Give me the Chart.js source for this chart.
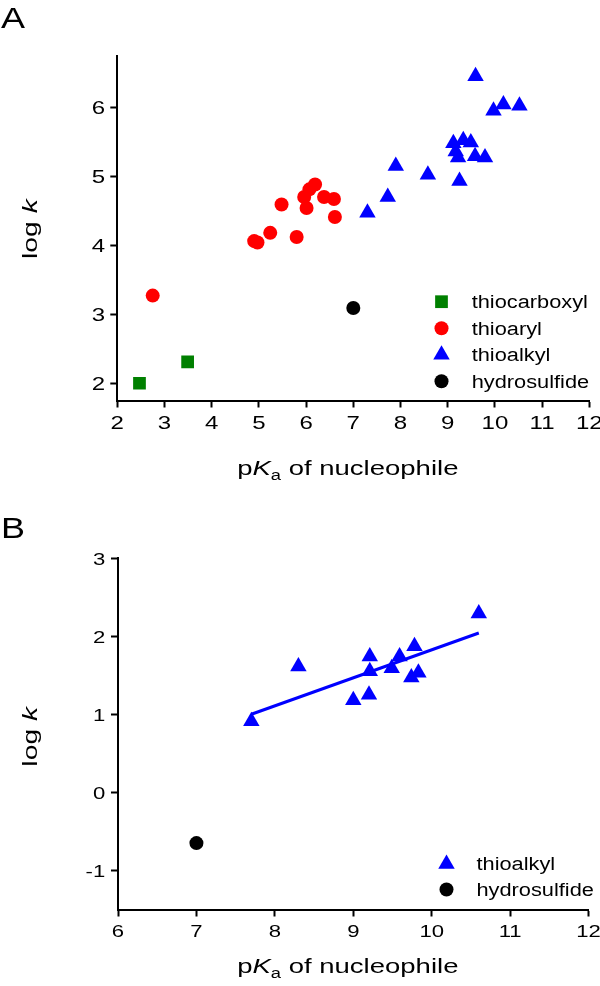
<!DOCTYPE html>
<html>
<head>
<meta charset="utf-8">
<script src="https://cdn.jsdelivr.net/npm/chart.js@4"></script>
<style>
    body { margin: 0; background: #fff; }
    .panel { position: absolute; left: 0; width: 600px; height: 493px; }
    #panelA { top: 0; }
    #panelB { top: 493px; }
</style>
</head>
<body>
<div class="panel" id="panelA"><canvas id="chartA" width="600" height="493"></canvas></div>
<div class="panel" id="panelB"><canvas id="chartB" width="600" height="493"></canvas></div>
<script>
// Panel A data (pKa, log k)
const carboxylX = [2.47, 3.49];
const carboxylY = [2.0, 2.31];
const arylX = [2.75, 4.9, 4.97, 5.24, 5.8, 5.48, 6.01, 5.96, 6.07, 6.19, 6.38, 6.59, 6.61];
const arylY = [3.27, 4.06, 4.04, 4.18, 4.12, 4.59, 4.54, 4.70, 4.81, 4.88, 4.70, 4.67, 4.41];
const alkylX = [7.3, 7.73, 7.9, 8.58, 9.25, 9.12, 9.33, 9.49, 9.17, 9.22, 9.58, 9.79, 9.59, 9.97, 10.18, 10.52];
const alkylY = [4.47, 4.70, 5.15, 5.02, 4.93, 5.48, 5.52, 5.49, 5.36, 5.27, 5.29, 5.27, 6.45, 5.95, 6.04, 6.02];
const sulfideX = [7.0];
const sulfideY = [3.09];

// Panel B data
const alkylBX = [7.7, 8.3, 9.21, 9.21, 9.2, 9.0, 9.49, 9.59, 9.78, 9.74, 9.83, 10.6];
const alkylBY = [0.91, 1.61, 1.74, 1.55, 1.25, 1.18, 1.59, 1.74, 1.87, 1.47, 1.53, 2.29];
const sulfideBX = [7.0];
const sulfideBY = [-0.65];
const fitX = [7.7, 10.6];
const fitY = [1.0, 2.04];

// tick labels
const xTicksA = [2, 3, 4, 5, 6, 7, 8, 9, 10, 11, 12];
const yTicksA = [2, 3, 4, 5, 6];
const xTicksB = [6, 7, 8, 9, 10, 11, 12];
const yTicksB = [-1, 0, 1, 2, 3];

const GREEN = '#008000', RED = '#ff0000', BLUE = '#0000ff', BLACK = '#000000';
const FAM = '"Liberation Sans", Arial, sans-serif';

function pts(xs, ys) {
    return xs.map((x, i) => ({ x: x, y: ys[i] }));
}

// text is wider than tall in the original, so stretch it horizontally
function stretchText(ctx, s, x, y, align, sx) {
    ctx.save();
    ctx.translate(x, y);
    ctx.scale(sx, 1);
    ctx.textAlign = align;
    ctx.textBaseline = 'alphabetic';
    ctx.fillText(s, 0, 0);
    ctx.restore();
}

function drawParts(ctx, parts, sx) {
    let w = 0;
    parts.forEach(p => { ctx.font = p.f; p.w = ctx.measureText(p.t).width; w += p.w; });
    ctx.scale(sx, 1);
    ctx.textAlign = 'left';
    ctx.textBaseline = 'alphabetic';
    let x = -w / 2;
    parts.forEach(p => { ctx.font = p.f; ctx.fillText(p.t, x, p.dy); x += p.w; });
}

const decor = {
    id: 'decor',
    afterDraw(chart, args, o) {
        const ctx = chart.ctx;
        const xs = chart.scales.x, ys = chart.scales.y;
        ctx.save();
        ctx.fillStyle = '#000';

        // tick labels
        ctx.font = o.tickSize + 'px ' + FAM;
        xs.ticks.forEach(t => stretchText(ctx, String(t.value), xs.getPixelForValue(t.value), o.xTickBase, 'center', 1.3));
        ys.ticks.forEach(t => stretchText(ctx, String(t.value), o.yTickRight, ys.getPixelForValue(t.value) + 6.6, 'right', 1.3));

        // panel letter
        ctx.font = '30px ' + FAM;
        stretchText(ctx, o.letter, 1, o.letterBase, 'left', 1.2);

        // x title: pKa of nucleophile
        ctx.save();
        ctx.translate(347.8, o.xTitleBase);
        drawParts(ctx, [
            { t: 'p', f: '21px ' + FAM, dy: 0 },
            { t: 'K', f: 'italic 21px ' + FAM, dy: 0 },
            { t: 'a', f: '14px ' + FAM, dy: 5 },
            { t: ' of nucleophile', f: '21px ' + FAM, dy: 0 }
        ], 1.31);
        ctx.restore();

        // y title: log k
        ctx.save();
        ctx.translate(37, o.yTitleMid);
        ctx.rotate(-Math.PI / 2);
        drawParts(ctx, [
            { t: 'log ', f: '21px ' + FAM, dy: 0 },
            { t: 'k', f: 'italic 21px ' + FAM, dy: 0 }
        ], 1.35);
        ctx.restore();

        // legend
        o.legend.forEach((it, i) => {
            const y = o.legendY + i * o.legendGap;
            ctx.fillStyle = it.color;
            Chart.helpers.drawPoint(ctx, { pointStyle: it.style, radius: it.r, borderWidth: 0, rotation: 0 }, o.legendX, y);
            ctx.fillStyle = '#000';
            ctx.font = '18px ' + FAM;
            stretchText(ctx, it.label, o.legendTextX, y + 6.3, 'left', 1.21);
        });
        ctx.restore();
    }
};

function axis(min, max, tickVals, fixed, horizontal) {
    return {
        type: 'linear',
        min: min,
        max: max,
        afterBuildTicks: s => { s.ticks = tickVals.map(v => ({ value: v })); },
        afterFit: s => {
            if (horizontal) s.height = fixed; else s.width = fixed;
            s.paddingLeft = 0; s.paddingRight = 0; s.paddingTop = 0; s.paddingBottom = 0;
        },
        ticks: { display: false },
        grid: { display: true, drawOnChartArea: false, drawTicks: true, tickLength: 7, tickWidth: 2, tickColor: '#000' },
        border: { display: true, color: '#000', width: 2 }
    };
}

const triA = { pointStyle: 'triangle', pointRadius: 9.5 };

new Chart(document.getElementById('chartA'), {
    type: 'scatter',
    data: {
        datasets: [
            { label: 'thiocarboxyl', data: pts(carboxylX, carboxylY), pointStyle: 'rect', pointRadius: 9, pointBackgroundColor: GREEN, pointBorderWidth: 0 },
            { label: 'thioaryl', data: pts(arylX, arylY), pointStyle: 'circle', pointRadius: 7, pointBackgroundColor: RED, pointBorderWidth: 0 },
            { label: 'thioalkyl', data: pts(alkylX, alkylY), pointStyle: 'triangle', pointRadius: 9.5, pointBackgroundColor: BLUE, pointBorderWidth: 0 },
            { label: 'hydrosulfide', data: pts(sulfideX, sulfideY), pointStyle: 'circle', pointRadius: 7, pointBackgroundColor: BLACK, pointBorderWidth: 0 }
        ]
    },
    options: {
        responsive: false,
        animation: false,
        layout: { padding: { top: 55.5, right: 10.7, bottom: 0, left: 0 } },
        scales: {
            x: axis(2, 12, xTicksA, 92.5, true),
            y: axis(1.75, 6.75, yTicksA, 117.3, false)
        },
        plugins: {
            legend: { display: false },
            tooltip: { enabled: false },
            decor: {
                tickSize: 18.5, xTickBase: 428.5, yTickRight: 105.2,
                letter: 'A', letterBase: 28.3,
                xTitleBase: 475, yTitleMid: 229,
                legendX: 441.5, legendY: 301.7, legendGap: 26.5, legendTextX: 471.7,
                legend: [
                    { label: 'thiocarboxyl', style: 'rect', r: 9, color: GREEN },
                    { label: 'thioaryl', style: 'circle', r: 7, color: RED },
                    { label: 'thioalkyl', style: 'triangle', r: 9.5, color: BLUE },
                    { label: 'hydrosulfide', style: 'circle', r: 7, color: BLACK }
                ]
            }
        }
    },
    plugins: [decor]
});

new Chart(document.getElementById('chartB'), {
    type: 'scatter',
    data: {
        datasets: [
            { type: 'line', label: 'fit', data: pts(fitX, fitY), showLine: true, borderColor: BLUE, borderWidth: 3, pointRadius: 0, fill: false },
            { label: 'thioalkyl', data: pts(alkylBX, alkylBY), pointStyle: 'triangle', pointRadius: 9.5, pointBackgroundColor: BLUE, pointBorderWidth: 0 },
            { label: 'hydrosulfide', data: pts(sulfideBX, sulfideBY), pointStyle: 'circle', pointRadius: 7, pointBackgroundColor: BLACK, pointBorderWidth: 0 }
        ]
    },
    options: {
        responsive: false,
        animation: false,
        layout: { padding: { top: 65, right: 11.4, bottom: 0, left: 0 } },
        scales: {
            x: axis(6, 12, xTicksB, 76.5, true),
            y: axis(-1.5, 3, yTicksB, 118, false)
        },
        plugins: {
            legend: { display: false },
            tooltip: { enabled: false },
            decor: {
                tickSize: 17, xTickBase: 443.7, yTickRight: 105.2,
                letter: 'B', letterBase: 45.3,
                xTitleBase: 480.3, yTitleMid: 243.7,
                legendX: 446.5, legendY: 371, legendGap: 25.5, legendTextX: 476.5,
                legend: [
                    { label: 'thioalkyl', style: 'triangle', r: 9.5, color: BLUE },
                    { label: 'hydrosulfide', style: 'circle', r: 7, color: BLACK }
                ]
            }
        }
    },
    plugins: [decor]
});
</script>
</body>
</html>
